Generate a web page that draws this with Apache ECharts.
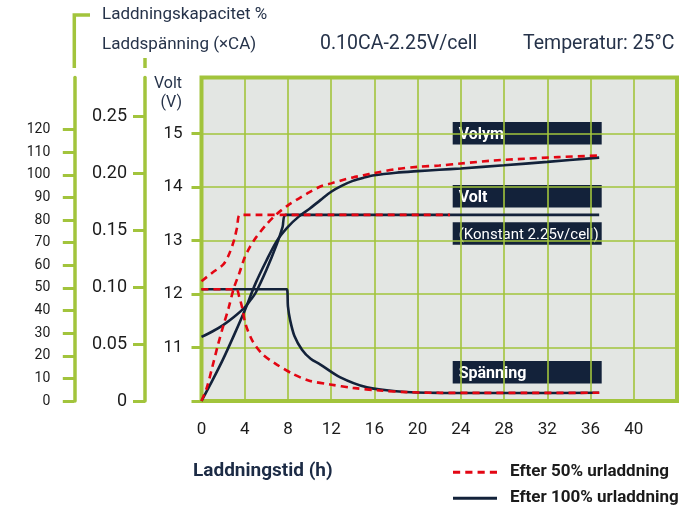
<!DOCTYPE html>
<html>
<head>
<meta charset="utf-8">
<script src="https://cdn.jsdelivr.net/npm/echarts@6/dist/echarts.min.js"></script>
<style>
html,body{margin:0;padding:0;background:#fff;}
#c{width:700px;height:509px;}
</style>
</head>
<body>
<div id="c"></div>
<script>
// ---- tick labels ----
const xTicks = [0, 4, 8, 12, 16, 20, 24, 28, 32, 36, 40];
const voltTicks = [11, 12, 13, 14, 15];
const voltTickMarks = [10, 11, 12, 13, 14, 15];
const caTicks = [0, 0.05, 0.10, 0.15, 0.20, 0.25];
const pctTicks = [0, 10, 20, 30, 40, 50, 60, 70, 80, 90, 100, 110, 120];

// ---- Volt (V), after 100% discharge ----
const voltH100 = [0, 1, 2, 3, 4, 4.5, 5, 6, 7, 7.5, 7.8, 12, 20, 30, 36.8];
const volt100  = [11.2, 11.3, 11.42, 11.57, 11.75, 11.88, 12.02, 12.45, 12.95, 13.25, 13.48, 13.48, 13.48, 13.48, 13.48];
// ---- Volt (V), after 50% discharge ----
const voltH50 = [0, 1, 2, 2.5, 3, 3.3, 3.6, 10, 23];
const volt50  = [12.24, 12.4, 12.55, 12.72, 13.0, 13.25, 13.48, 13.48, 13.48];

// ---- Laddningskapacitet (%), after 100% discharge ----
const capH100 = [0, 1, 2, 3, 4, 5, 6, 7, 8, 9, 10, 11, 12, 13, 14, 15, 16, 18, 20, 22, 24, 28, 32, 36.8];
const cap100  = [0, 9, 18.5, 29, 40, 52, 62, 71, 77, 81.5, 85, 88.8, 92.5, 95.2, 97.3, 98.7, 99.8, 100.9, 101.6, 102.2, 102.8, 104.2, 105.7, 107.6];
// ---- Laddningskapacitet (%), after 50% discharge ----
const capH50 = [0, 0.5, 1, 1.5, 2, 2.5, 3, 3.5, 4, 4.5, 5, 6, 7, 8, 9, 10, 11, 12, 13, 14, 15, 16, 18, 20, 22, 24, 27, 30, 33, 36.8];
const cap50  = [0, 6, 15, 24.4, 33, 41, 50, 56.5, 63.5, 68.2, 72, 78, 82.8, 86.5, 89.5, 92.3, 94.8, 96.2, 97.6, 98.8, 99.8, 100.8, 102.5, 103.5, 104.1, 105, 106.3, 107.1, 107.8, 108.5];

// ---- Laddspänning / ström (xCA), after 100% discharge ----
const curH100 = [0, 7.9, 8.0, 8.2, 8.6, 9.3, 10.1, 11, 12.8, 15.3, 18, 22, 26, 30, 36.8];
const cur100  = [0.098, 0.098, 0.083, 0.071, 0.057, 0.045, 0.037, 0.032, 0.021, 0.012, 0.0086, 0.0071, 0.007, 0.007, 0.0072];
// ---- after 50% discharge ----
const curH50 = [0, 3.2, 3.5, 3.76, 4.06, 4.7, 5.6, 6.8, 8.4, 9.9, 11.9, 14, 16.5, 19, 21.8, 26, 30, 36.8];
const cur50  = [0.098, 0.098, 0.091, 0.082, 0.068, 0.053, 0.0415, 0.033, 0.024, 0.018, 0.0145, 0.0115, 0.0092, 0.0078, 0.0072, 0.0071, 0.0071, 0.0072];

const GREEN = '#a2c43c';
const NAVY = '#13223a';
const RED = '#e30613';
const FONT = 'Roboto';
const TXT = '#1b1b1b';

function pairs(xs, ys) { return xs.map((x, i) => [x, ys[i]]); }

const NAME50 = 'Efter 50% urladdning';
const NAME100 = 'Efter 100% urladdning';

function solid(xs, ys, axis) {
  return { name: NAME100, type: 'line', yAxisIndex: axis, data: pairs(xs, ys), symbol: 'none', showSymbol: false,
    smooth: 0.3, lineStyle: { color: NAVY, width: 2.6 }, itemStyle: { color: NAVY }, z: 3 };
}
function dashed(xs, ys, axis) {
  return { name: NAME50, type: 'line', yAxisIndex: axis, data: pairs(xs, ys), symbol: 'none', showSymbol: false,
    smooth: 0.3, lineStyle: { color: RED, width: 2.6, type: [7, 5] }, itemStyle: { color: RED }, z: 4 };
}

const chart = echarts.init(document.getElementById('c'), null, { renderer: 'canvas' });

function boxLabel(txt, y, bold) {
  return {
    type: 'group', left: 452.7, top: y,
    children: [
      { type: 'rect', shape: { x: 0, y: 0, width: 149, height: 22.5 }, style: { fill: NAVY } },
      { type: 'text', x: 6, y: 12.5, style: { text: txt, fill: '#ffffff', font: (bold ? 'bold 16px ' : '15px ') + FONT, verticalAlign: 'middle', align: 'left' } }
    ]
  };
}

const legendText = { color: TXT, fontFamily: FONT, fontSize: 17, fontWeight: 'bold', padding: [0, 0, 0, 8] };

const option = {
  animation: false,
  grid: { left: 201.5, right: 23, top: 77.5, bottom: 108, show: true, backgroundColor: '#e3e6e3', borderColor: GREEN, borderWidth: 4 },
  legend: [
    { data: [{ name: NAME50, icon: 'path://M0,0h7v3h-7z M12,0h7v3h-7z M24,0h7v3h-7z M36,0h7v3h-7z' }],
      left: 453, top: 463.7, padding: 0, itemWidth: 44, itemHeight: 14, textStyle: legendText, selectedMode: false },
    { data: [{ name: NAME100, icon: 'path://M0,0h44v3h-44z' }],
      left: 453, top: 489.7, padding: 0, itemWidth: 44, itemHeight: 14, textStyle: legendText, selectedMode: false }
  ],
  xAxis: {
    type: 'value', min: 0, max: 44, interval: 4,
    axisLine: { show: false }, axisTick: { show: false },
    axisLabel: { customValues: xTicks, color: TXT, fontSize: 17, fontFamily: FONT, margin: 20 },
    splitLine: { show: true, lineStyle: { color: GREEN, width: 1.6 } }
  },
  yAxis: [
    {
      type: 'value', min: 10, max: 16.05, interval: 1, position: 'left', offset: 0,
      axisLine: { show: false },
      axisTick: { show: true, length: 10, customValues: voltTickMarks, lineStyle: { color: GREEN, width: 3 } },
      axisLabel: { customValues: voltTicks, color: TXT, fontSize: 17, fontFamily: FONT, margin: 19 },
      splitLine: { show: true, customValues: voltTicks, lineStyle: { color: GREEN, width: 1.6 } }
    },
    {
      type: 'value', min: 0, max: 0.2838, position: 'left', offset: 56.5,
      axisLine: { show: true, lineStyle: { color: GREEN, width: 3.5 } },
      axisTick: { show: true, length: 12, customValues: caTicks, lineStyle: { color: GREEN, width: 3 } },
      axisLabel: { customValues: caTicks, color: TXT, fontSize: 18, fontFamily: FONT, margin: 18,
        formatter: v => v === 0 ? '0' : v.toFixed(2) },
      splitLine: { show: false }
    },
    {
      type: 'value', min: 0, max: 143, position: 'left', offset: 127.2,
      axisLine: { show: true, lineStyle: { color: GREEN, width: 3.5 } },
      axisTick: { show: true, length: 11.5, customValues: pctTicks, lineStyle: { color: GREEN, width: 3 } },
      axisLabel: { customValues: pctTicks, color: TXT, fontSize: 14, fontFamily: FONT, margin: 24 },
      splitLine: { show: false }
    }
  ],
  graphic: [
    { type: 'polyline', shape: { points: [[90, 15], [74.3, 15], [74.3, 68]] }, style: { stroke: GREEN, lineWidth: 3.5, fill: null } },
    { type: 'line', shape: { x1: 145, y1: 58, x2: 145, y2: 68 }, style: { stroke: GREEN, lineWidth: 3.5 } },
    { type: 'text', x: 102, y: 15, style: { text: 'Laddningskapacitet %', fill: '#26334a', font: '17px ' + FONT, verticalAlign: 'middle' } },
    { type: 'text', x: 102, y: 44.5, style: { text: 'Laddspänning (×CA)', fill: '#26334a', font: '17px ' + FONT, verticalAlign: 'middle' } },
    { type: 'text', x: 320, y: 44.5, style: { text: '0.10CA-2.25V/cell', fill: '#26334a', font: '19.5px ' + FONT, verticalAlign: 'middle' } },
    { type: 'text', x: 523, y: 44.5, style: { text: 'Temperatur: 25°C', fill: '#26334a', font: '19.5px ' + FONT, verticalAlign: 'middle' } },
    { type: 'text', x: 182, y: 84, style: { text: 'Volt', fill: '#26334a', font: '16px ' + FONT, verticalAlign: 'middle', align: 'right' } },
    { type: 'text', x: 182, y: 103, style: { text: '(V)', fill: '#26334a', font: '16px ' + FONT, verticalAlign: 'middle', align: 'right' } },
    { type: 'text', x: 193, y: 471, style: { text: 'Laddningstid (h)', fill: '#1c2b45', font: 'bold 19px ' + FONT, verticalAlign: 'middle' } },
    boxLabel('Volym', 122, true),
    boxLabel('Volt', 185, true),
    boxLabel('(Konstant 2.25v/cell)', 222.3, false),
    boxLabel('Spänning', 361, true)
  ],
  series: [
    solid(capH100, cap100, 2),
    solid(voltH100, volt100, 0),
    solid(curH100, cur100, 1),
    dashed(capH50, cap50, 2),
    dashed(voltH50, volt50, 0),
    dashed(curH50, cur50, 1)
  ]
};
chart.setOption(option);
</script>
</body>
</html>
